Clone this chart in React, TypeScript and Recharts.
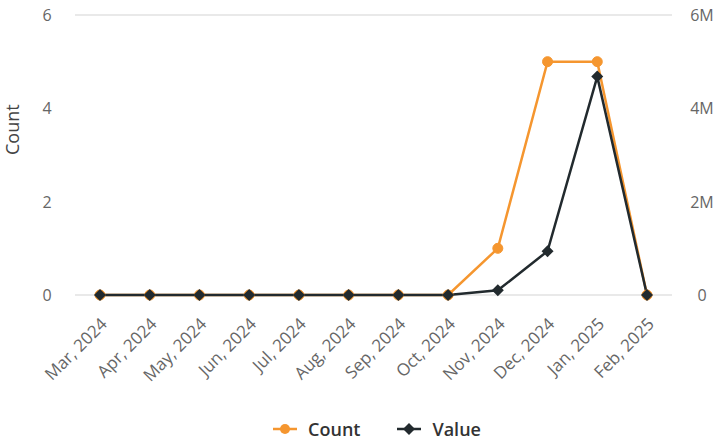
import React from "react";
import { CartesianGrid, Legend, Line, LineChart, XAxis, YAxis } from "recharts";

const months = [
  "Mar, 2024", "Apr, 2024", "May, 2024", "Jun, 2024", "Jul, 2024", "Aug, 2024",
  "Sep, 2024", "Oct, 2024", "Nov, 2024", "Dec, 2024", "Jan, 2025", "Feb, 2025",
];
const countValues = [0, 0, 0, 0, 0, 0, 0, 0, 1, 5, 5, 0];
const valueAmounts = [0, 0, 0, 0, 0, 0, 0, 0, 100000, 940000, 4680000, 0];
const countTicks = [0, 2, 4, 6];
const valueTicks = [0, 2000000, 4000000, 6000000];

const ORANGE = "#f5962f";
const DARK = "#222a2e";
const FONT = "'Open Sans', 'Noto Sans', sans-serif";

const data = months.map((month, i) => ({
  month,
  count: countValues[i],
  value: valueAmounts[i],
}));

const fmtValue = (v: number) => (v === 0 ? "0" : `${v / 1000000}M`);

const MonthTick = (props: any) => {
  const { x, y, payload } = props;
  const tx = x + 5;
  const ty = y + 19;
  return (
    <text
      x={tx}
      y={ty}
      transform={`rotate(-45 ${tx} ${ty})`}
      textAnchor="end"
      dominantBaseline="middle"
      fill="#666"
      fontSize={17}
      fontFamily={FONT}
    >
      {payload.value}
    </text>
  );
};

const CenterTick = (props: any) => {
  const { y, payload, cx, format } = props;
  return (
    <text x={cx} y={y} textAnchor="middle" dominantBaseline="central" fill="#666" fontSize={16} fontFamily={FONT}>
      {format ? format(payload.value) : payload.value}
    </text>
  );
};

const Diamond = (props: any) => {
  const { cx, cy } = props;
  if (cx == null || cy == null) return null;
  const r = 6;
  return <polygon points={`${cx},${cy - r} ${cx + r},${cy} ${cx},${cy + r} ${cx - r},${cy}`} fill={DARK} />;
};

const LegendContent = () => (
  <div
    style={{
      display: "flex",
      justifyContent: "center",
      gap: 37,
      paddingLeft: 32,
      paddingTop: 11,
      fontFamily: FONT,
      fontSize: 18,
      fontWeight: 600,
      lineHeight: "24px",
      color: "#333",
    }}
  >
    {[
      { name: "Count", color: ORANGE, shape: "circle" },
      { name: "Value", color: DARK, shape: "diamond" },
    ].map((item) => (
      <div key={item.name} style={{ display: "flex", alignItems: "center", gap: 11 }}>
        <svg width={24} height={12}>
          <line x1={0} y1={6} x2={24} y2={6} stroke={item.color} strokeWidth={2.5} />
          {item.shape === "circle" ? (
            <circle cx={12} cy={6} r={5} fill={item.color} />
          ) : (
            <polygon points="12,0 18,6 12,12 6,6" fill={item.color} />
          )}
        </svg>
        <span>{item.name}</span>
      </div>
    ))}
  </div>
);

export default function App() {
  return (
    <div style={{ position: "absolute", left: 0, top: 0, background: "#fff" }}>
      <LineChart width={722} height={442} data={data} margin={{ top: 15, right: 0, bottom: 0, left: 0 }}>
        <CartesianGrid vertical={false} stroke="#e2e2e2" strokeWidth={1.5} />
        <XAxis
          dataKey="month"
          interval={0}
          axisLine={false}
          tickLine={false}
          height={111}
          padding={{ left: 25, right: 25 }}
          tick={<MonthTick />}
        />
        <YAxis
          yAxisId="left"
          width={75}
          domain={[0, 6]}
          ticks={countTicks}
          axisLine={false}
          tickLine={false}
          tick={<CenterTick cx={47} />}
          label={{ value: "Count", angle: -90, position: "insideLeft", offset: 13, fill: "#444", fontSize: 18, fontFamily: FONT }}
        />
        <YAxis
          yAxisId="right"
          orientation="right"
          width={50}
          domain={[0, 6000000]}
          ticks={valueTicks}
          axisLine={false}
          tickLine={false}
          tick={<CenterTick cx={702} format={fmtValue} />}
        />
        <Legend verticalAlign="bottom" height={36} content={<LegendContent />} />
        <Line
          yAxisId="left"
          type="linear"
          dataKey="count"
          name="Count"
          stroke={ORANGE}
          strokeWidth={2.5}
          dot={{ r: 5, fill: ORANGE, stroke: ORANGE, strokeWidth: 1 }}
          activeDot={false}
          isAnimationActive={false}
        />
        <Line
          yAxisId="right"
          type="linear"
          dataKey="value"
          name="Value"
          stroke={DARK}
          strokeWidth={2.5}
          dot={<Diamond />}
          activeDot={false}
          isAnimationActive={false}
        />
      </LineChart>
    </div>
  );
}
